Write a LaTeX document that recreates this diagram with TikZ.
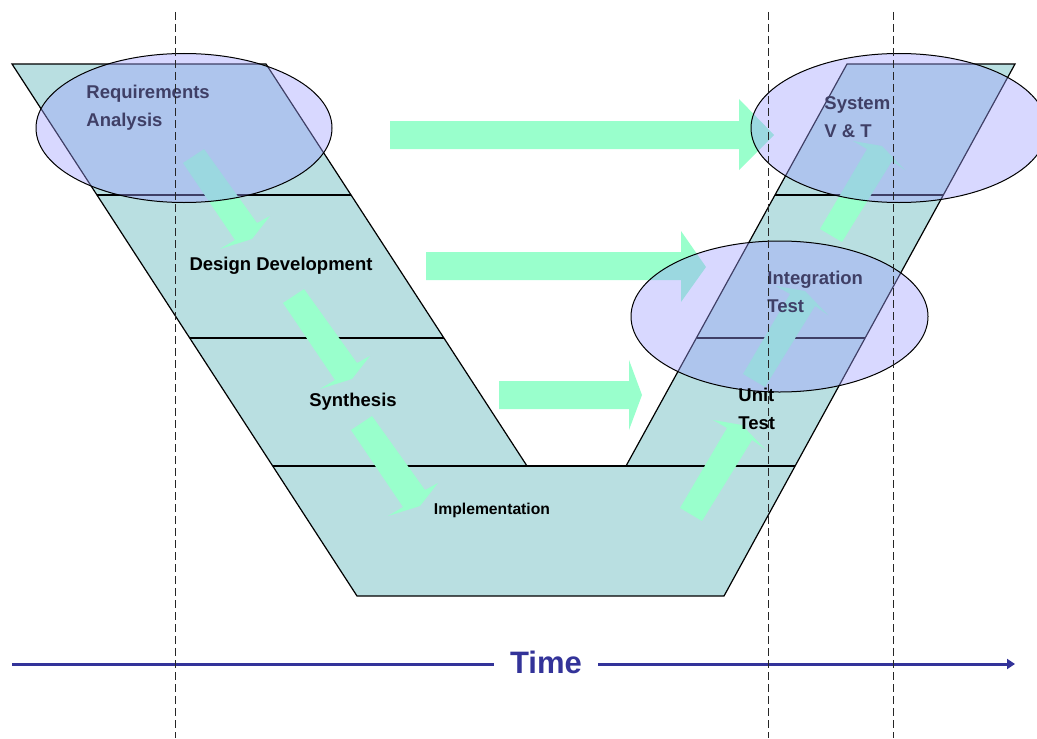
\documentclass[tikz,border=0pt]{standalone}
\usepackage{fontspec}
\setmainfont{Liberation Sans}
\usetikzlibrary{arrows.meta}

\definecolor{vteal}{RGB}{185,223,225}
\definecolor{mint}{RGB}{153,255,204}
\definecolor{phaseblue}{RGB}{158,158,255}
\definecolor{timeblue}{RGB}{51,51,153}

\tikzset{
  vshape/.style={fill=vteal, draw=black, line width=0.6pt},
  band/.style={draw=black, line width=0.6pt},
  mintarrow/.style={fill=mint},
  phase/.style={fill=phaseblue, fill opacity=0.4, draw=black, line width=0.5pt},
  lbl/.style={font=\bfseries\fontsize{9.25}{14}\selectfont, align=left, inner sep=0pt},
  guide/.style={draw=black!85, line width=0.45pt, dash pattern=on 4pt off 2pt},
}

\begin{document}
\begin{tikzpicture}[x=0.5pt, y=-0.5pt]
\useasboundingbox (0,0) rectangle (1037,738);

% the V
\draw [vshape] (12,64) -- (266,64) -- (527,466) -- (626,466) -- (847,64) -- (1015,64)
  -- (724,596) -- (357,596) -- cycle;
\draw [band] (97,195) -- (351,195);
\draw [band] (190,338) -- (444,338);
\draw [band] (273,466) -- (795,466);
\draw [band] (775,195) -- (943,195);
\draw [band] (697,338) -- (865,338);

% arrows across
\fill [mintarrow] (390,121) -- (739,121) -- (739,99) -- (774,135) -- (739,170) -- (739,149) -- (390,149) -- cycle;
\fill [mintarrow] (426,252) -- (681,252) -- (681,231) -- (706,267) -- (681,302) -- (681,280) -- (426,280) -- cycle;
\fill [mintarrow] (499,381) -- (629,381) -- (629,360) -- (642,395) -- (629,430) -- (629,409) -- (499,409) -- cycle;

% arrows down the left arm
\fill [mintarrow] (183,163) -- (204,149) -- (257,223) -- (270,216) -- (252,239) -- (220,249) -- (235,240) -- cycle;
\fill [mintarrow, shift={(100,140)}] (183,163) -- (204,149) -- (257,223) -- (270,216) -- (252,239) -- (220,249) -- (235,240) -- cycle;
\fill [mintarrow, shift={(168,267)}] (183,163) -- (204,149) -- (257,223) -- (270,216) -- (252,239) -- (220,249) -- (235,240) -- cycle;

% arrows up the right arm
\fill [mintarrow] (680,508) -- (702,521) -- (752,440) -- (765,449) -- (742,425) -- (713,420) -- (727,428) -- cycle;
\fill [mintarrow, shift={(63,-134)}] (680,508) -- (702,521) -- (752,440) -- (765,449) -- (742,425) -- (713,420) -- (727,428) -- cycle;
\fill [mintarrow, shift={(140,-279)}] (680,508) -- (702,521) -- (752,440) -- (765,449) -- (742,425) -- (713,420) -- (727,428) -- cycle;

% phases
\node [lbl, anchor=west] (req) at (86,108) {Requirements\\Analysis};
\node [lbl] (design) at (281,266) {Design Development};
\node [lbl] (synth) at (353,402) {Synthesis};
\node [lbl, font=\bfseries\fontsize{7.85}{10}\selectfont] (impl) at (492,510) {Implementation};
\node [lbl, anchor=west] (integ) at (767,292) {Integration\\Test};
\node [lbl, anchor=west] (sys) at (824,117) {System\\V \& T};

\draw [phase] (184,128) ellipse [x radius=148, y radius=74.5];
\draw [phase] (899,128) ellipse [x radius=148, y radius=74.5];
\draw [phase] (779.5,316.5) ellipse [x radius=148.5, y radius=75.5];

\node [lbl, anchor=west] (unit) at (738,409) {Unit\\Test};

% time
\node [font=\bfseries\fontsize{15.5}{18}\selectfont, text=timeblue, inner xsep=8pt] (time) at (546,662) {Time};
\coordinate (tstart) at (12,664);
\coordinate (tend) at (1015,664);
\draw [timeblue, line width=1.5pt] (tstart) -- (tstart -| time.west);
\draw [timeblue, line width=1.5pt, -{Triangle[length=4pt, width=5pt]}] (time.east |- tend) -- (tend);

\draw [guide] (175,12) -- (175,738);
\draw [guide] (768,12) -- (768,738);
\draw [guide] (893,12) -- (893,738);
\end{tikzpicture}
\end{document}
